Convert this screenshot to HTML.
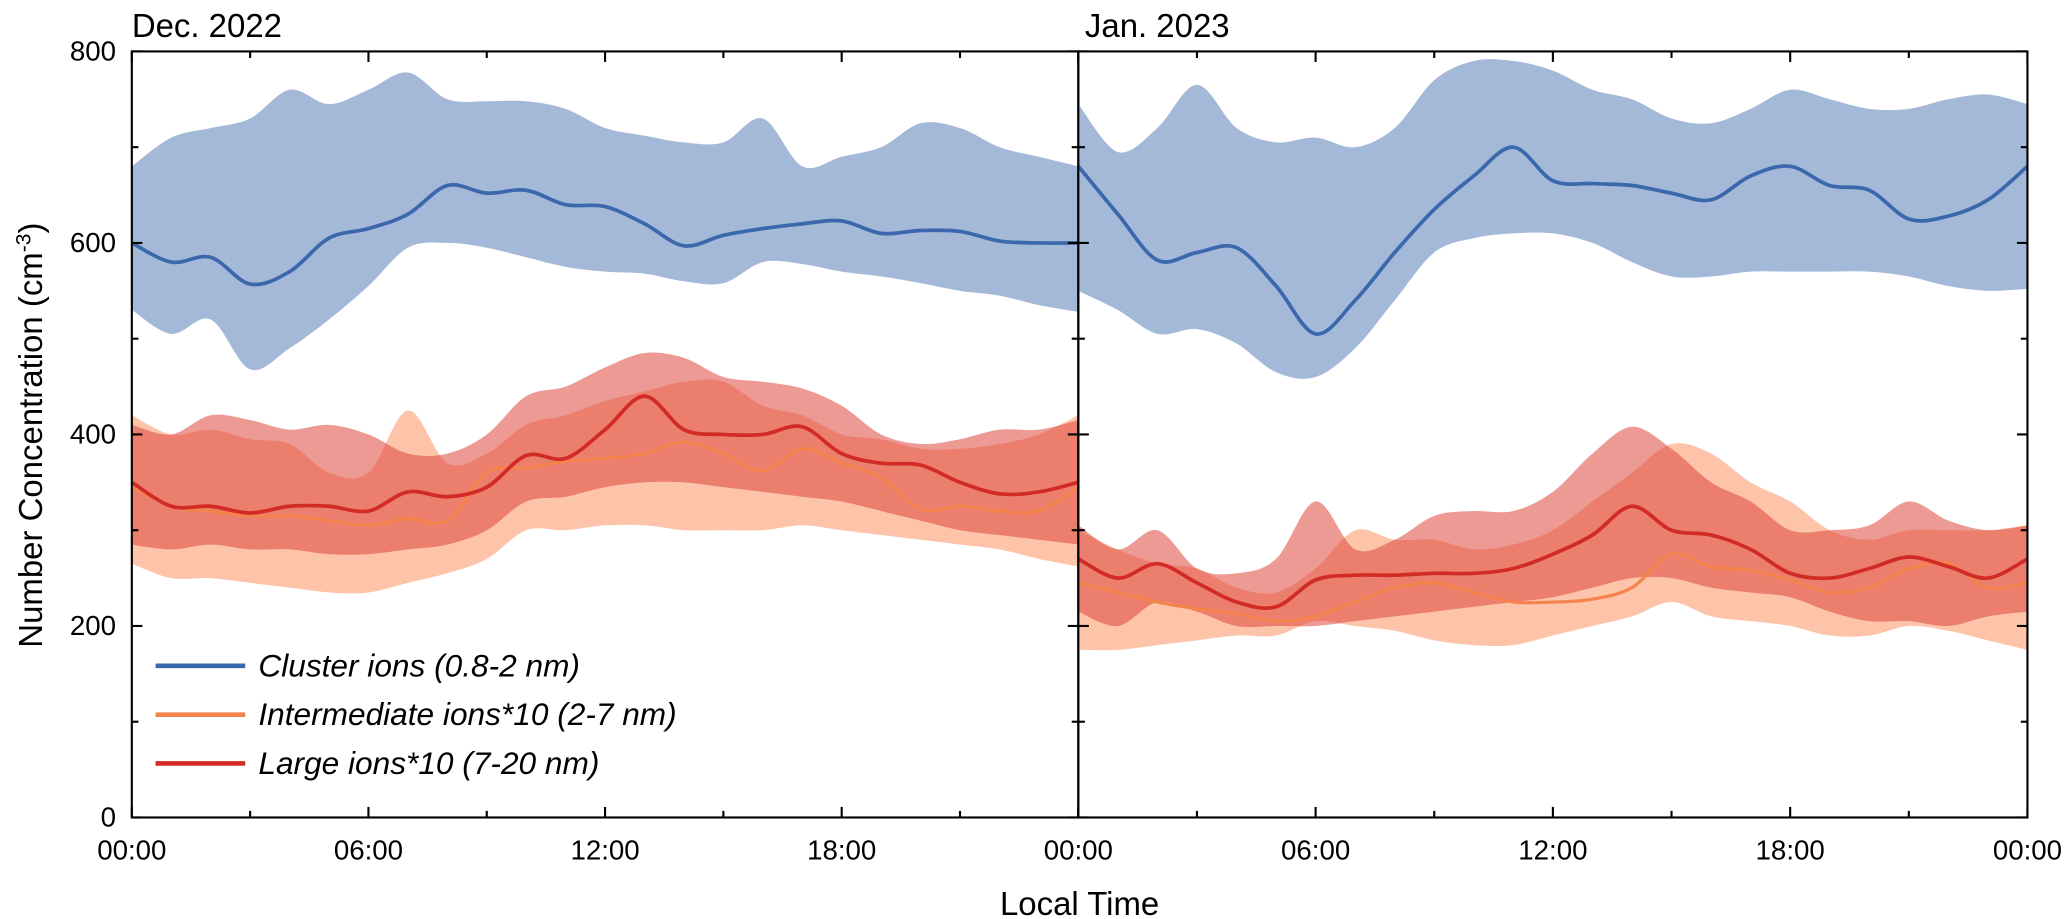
<!DOCTYPE html>
<html><head><meta charset="utf-8"><style>
body{margin:0;background:#fff;}
svg{display:block;font-family:"Liberation Sans",Arial,sans-serif;}
</style></head><body>
<svg id="chart" width="2067" height="919" viewBox="0 0 1568 697" preserveAspectRatio="none"></svg>
<script>
const hours=[0,1,2,3,4,5,6,7,8,9,10,11,12,13,14,15,16,17,18,19,20,21,22,23,24];
const yTicks=[0,200,400,600,800];
const xTickLabels=["00:00","06:00","12:00","18:00","00:00"];
const panelTitles=["Dec. 2022","Jan. 2023"];
// Dec 2022
const decClusterMean=[600,580,585,557,570,605,615,630,660,652,655,640,638,620,597,608,615,620,623,610,613,612,602,600,600];
const decClusterUp=[680,710,720,730,760,745,760,778,750,748,748,740,720,712,705,705,730,680,690,700,725,720,700,690,680];
const decClusterLo=[530,505,520,468,490,520,555,595,600,595,585,575,570,568,560,558,580,578,570,565,558,550,545,535,528];
const decIntMean=[345,325,320,315,315,310,305,312,310,360,365,372,375,380,392,380,362,385,370,355,322,325,320,320,345];
const decIntUp=[420,400,405,395,390,360,360,425,370,380,410,420,435,445,455,455,430,420,400,395,385,385,390,400,420];
const decIntLo=[265,250,250,245,240,235,235,245,255,270,300,300,305,305,300,300,300,305,300,295,290,285,280,270,262];
const decLargeMean=[350,325,325,318,325,325,320,340,335,345,378,375,405,440,405,400,400,408,380,370,368,350,338,340,350];
const decLargeUp=[410,400,420,415,405,410,400,380,380,400,440,450,470,485,480,460,455,448,430,400,390,395,405,405,415];
const decLargeLo=[285,280,285,280,280,275,275,280,285,300,330,335,345,350,350,345,340,335,330,320,310,300,295,290,285];
// Jan 2023
const janClusterMean=[680,630,582,590,595,555,505,540,590,635,670,700,665,662,660,652,645,670,680,660,655,625,628,645,680];
const janClusterUp=[745,695,720,765,720,705,710,700,720,770,790,790,780,760,750,730,725,740,760,750,740,740,750,755,745];
const janClusterLo=[550,530,505,510,495,465,460,490,540,590,605,610,610,600,580,565,565,570,570,570,570,565,555,550,552];
const janIntMean=[245,235,225,218,213,205,210,225,240,245,235,225,225,228,240,275,262,258,248,235,240,260,265,240,245];
const janIntUp=[300,280,265,260,240,235,260,300,290,290,280,285,300,330,360,390,380,350,330,300,290,300,300,300,305];
const janIntLo=[175,175,180,185,190,190,205,200,195,185,180,180,190,200,210,225,210,205,200,190,190,200,195,185,175];
const janLargeMean=[270,250,265,245,225,220,248,253,253,255,255,260,275,295,325,300,295,280,255,250,260,272,262,250,270];
const janLargeUp=[305,280,300,260,255,270,330,280,290,315,320,320,340,380,408,385,350,330,300,300,305,330,310,300,305];
const janLargeLo=[215,200,225,215,200,200,200,205,210,215,220,225,230,240,250,250,240,235,230,215,205,205,200,210,215];

const NS="http://www.w3.org/2000/svg";
const svg=document.getElementById('chart');
function el(tag,attrs,parent){const e=document.createElementNS(NS,tag);for(const k in attrs)e.setAttribute(k,attrs[k]);(parent||svg).appendChild(e);return e;}
const yTop=39,yBot=620,ymax=800;
const yS=v=>yBot-(v/ymax)*(yBot-yTop);
const panels=[{x0:100,x1:818},{x0:818,x1:1538}];
function smoothBody(p){let d='';for(let i=0;i<p.length-1;i++){const p0=p[Math.max(0,i-1)],p1=p[i],p2=p[i+1],p3=p[Math.min(p.length-1,i+2)];d+=` C${p1[0]+(p2[0]-p0[0])/6},${p1[1]+(p2[1]-p0[1])/6} ${p2[0]-(p3[0]-p1[0])/6},${p2[1]-(p3[1]-p1[1])/6} ${p2[0]},${p2[1]}`;}return d;}
function smooth(p){return `M${p[0][0]},${p[0][1]}`+smoothBody(p);}
function pts(xS,arr){return hours.map((h,i)=>[xS(h),yS(arr[i])]);}
function band(xS,up,lo,fill,name){
  const u=pts(xS,up),l=pts(xS,lo).reverse();
  const d=smooth(u)+` L${l[0][0]},${l[0][1]}`+smoothBody(l)+"Z";
  const p=el('path',{d:d,fill:fill,stroke:'none'});
  
  
}
function line(xS,arr,col,w,name){
  const p=el('path',{d:smooth(pts(xS,arr)),fill:'none',stroke:col,'stroke-width':w});
  
  
}
const data=[
 [decClusterMean,decClusterUp,decClusterLo,decIntMean,decIntUp,decIntLo,decLargeMean,decLargeUp,decLargeLo],
 [janClusterMean,janClusterUp,janClusterLo,janIntMean,janIntUp,janIntLo,janLargeMean,janLargeUp,janLargeLo]];
panels.forEach((P,pi)=>{
  const xS=h=>P.x0+(h/24)*(P.x1-P.x0);
  const D=data[pi];
  const tag=pi===0?'dec':'jan';
  band(xS,D[1],D[2],'#a4b8d8',tag+'-cluster-band');
  band(xS,D[4],D[5],'rgba(252,165,125,0.65)',tag+'-intermediate-band');
  band(xS,D[7],D[8],'rgba(222,70,60,0.55)',tag+'-large-band');
  line(xS,D[0],'#3b67ad',2.8,tag+'-cluster-line');
  line(xS,D[3],'#f4844c',2.4,tag+'-intermediate-line');
  line(xS,D[6],'#d22a24',2.8,tag+'-large-line');
  const r=el('rect',{x:P.x0,y:yTop,width:P.x1-P.x0,height:yBot-yTop,fill:'none',stroke:'#000','stroke-width':1.6});
  
  
  for(let h=0;h<=24;h+=3){
    const x=xS(h),len=h%6===0?8:5;
    el('line',{x1:x,x2:x,y1:yBot,y2:yBot-len,stroke:'#000','stroke-width':1.6});
    el('line',{x1:x,x2:x,y1:yTop,y2:yTop+len,stroke:'#000','stroke-width':1.6});
  }
  xTickLabels.forEach((lab,i)=>{
    if(pi===1&&i===0)return;
    const t=el('text',{x:xS(i*6),y:652,'font-size':21,'text-anchor':'middle'});t.textContent=lab;
    
    
  });
  const tt=el('text',{x:P.x0+(pi===0?0:5),y:28,'font-size':25});tt.textContent=panelTitles[pi];
  
  
});
for(let v=0;v<=800;v+=100){
  const y=yS(v),len=v%200===0?8:5;
  [[100,1],[818,1],[818,-1],[1538,-1]].forEach(([x,s])=>el('line',{x1:x,x2:x+s*len,y1:y,y2:y,stroke:'#000','stroke-width':1.6}));
}
yTicks.forEach(v=>{
  const t=el('text',{x:88,y:yS(v)+7,'font-size':21,'text-anchor':'end'});t.textContent=v;
  
  
});
const yt=el('text',{transform:'translate(32,330) rotate(-90)','font-size':25,'text-anchor':'middle'});
yt.innerHTML='Number Concentration (cm<tspan dy="-9" font-size="16">-3</tspan><tspan dy="9">)</tspan>';


const xt=el('text',{x:819,y:694,'font-size':25,'text-anchor':'middle'});xt.textContent='Local Time';


const legendLabels=["Cluster ions (0.8-2 nm)","Intermediate ions*10 (2-7 nm)","Large ions*10 (7-20 nm)"];
const legendColors=['#3b67ad','#f4844c','#d22a24'];
legendLabels.forEach((lab,i)=>{
  const y=505+i*37;
  const g=el('g',{});
  
  
  el('line',{x1:118,x2:186,y1:y,y2:y,stroke:legendColors[i],'stroke-width':3.5},g);
  const t=el('text',{x:196,y:y+8,'font-size':24,'font-style':'italic'},g);t.textContent=lab;
});
</script>
</body></html>
